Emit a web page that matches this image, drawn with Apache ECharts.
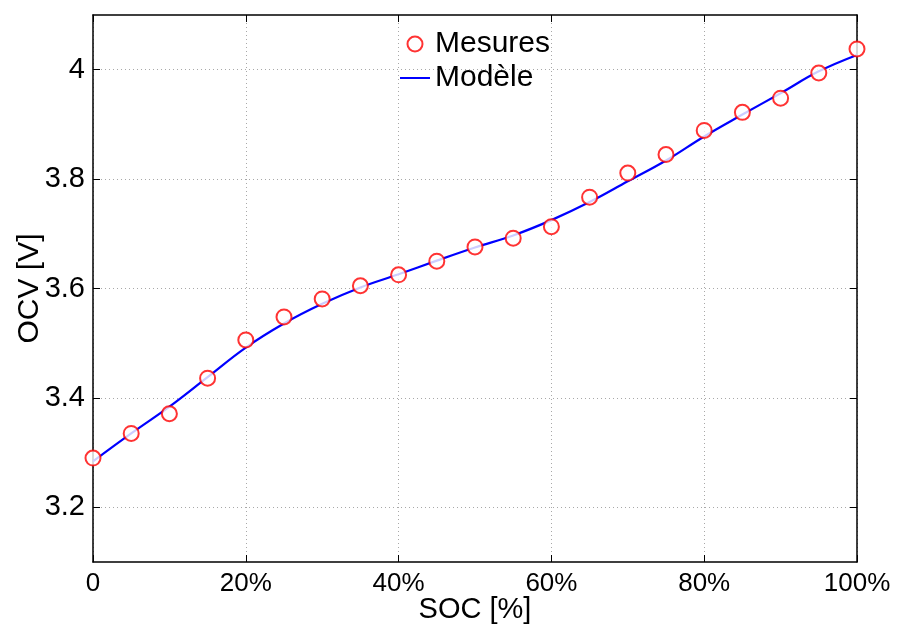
<!DOCTYPE html>
<html>
<head>
<meta charset="utf-8">
<script src="https://cdn.jsdelivr.net/npm/echarts@6/dist/echarts.min.js"></script>
<style>
html,body{margin:0;padding:0;background:#fff;}
#chart{width:897px;height:628px;}
</style>
</head>
<body>
<div id="chart"></div>
<script>
// SOC [%] categories
var socValues = [0,5,10,15,20,25,30,35,40,45,50,55,60,65,70,75,80,85,90,95,100];
// Measured OCV [V]
var mesures = [3.290,3.335,3.371,3.436,3.506,3.548,3.581,3.605,3.625,3.650,3.676,3.692,3.713,3.767,3.811,3.845,3.889,3.922,3.948,3.994,4.038];
// Model OCV [V]
var modele = [3.284,3.335,3.384,3.438,3.492,3.536,3.572,3.602,3.626,3.651,3.675,3.697,3.725,3.758,3.796,3.834,3.878,3.918,3.957,3.997,4.027];
// Tick labels
var xTickValues = [0,20,40,60,80,100];
var xTickLabels = ['0','20%','40%','60%','80%','100%'];
var yTickValues = [3.2,3.4,3.6,3.8,4.0];
var yTickLabels = ['3.2','3.4','3.6','3.8','4'];

function pairs(xs, ys){ return xs.map(function(x,i){ return [x, ys[i]]; }); }
function lookup(vals, labels, v){
  for (var i=0;i<vals.length;i++){ if (Math.abs(vals[i]-v)<1e-6) return labels[i]; }
  return '';
}

var chart = echarts.init(document.getElementById('chart'), null, {renderer:'canvas'});
var axisFont = 'Liberation Sans, Arial, sans-serif';
var gridLine = {show:true, lineStyle:{color:'#a8a8a8', type:[1,3], width:1}};
var option = {
  backgroundColor:'#ffffff',
  animation:false,
  grid:{left:93, right:40, top:15, bottom:66, containLabel:false, outerBoundsMode:'none'},
  legend:{
    orient:'vertical', left:395, top:24, itemWidth:30, itemHeight:15, itemGap:4,
    textStyle:{fontFamily:axisFont, fontSize:30, color:'#000'},
    data:[
      {name:'Mesures', icon:'emptyCircle'},
      {name:'Modèle', icon:'path://M0,0h30v2h-30z', itemStyle:{color:'#0000ff'}}
    ]
  },
  xAxis:[{
    type:'value', min:0, max:100, interval:20, position:'bottom',
    name:'SOC [%]', nameLocation:'middle', nameGap:33, nameMoveOverlap:false,
    nameTextStyle:{fontFamily:axisFont, fontSize:29, color:'#000'},
    axisLine:{show:true, onZero:false, lineStyle:{color:'#000', width:1.5}},
    axisTick:{show:true, inside:true, length:7, lineStyle:{color:'#000'}},
    axisLabel:{fontFamily:axisFont, fontSize:26, color:'#000', margin:9,
      formatter:function(v){ return lookup(xTickValues, xTickLabels, v); }},
    splitLine:gridLine
  },{
    type:'value', min:0, max:100, interval:20, position:'top',
    axisLine:{show:true, onZero:false, lineStyle:{color:'#000', width:1.5}},
    axisTick:{show:true, inside:true, length:7, lineStyle:{color:'#000'}},
    axisLabel:{show:false}, splitLine:{show:false}
  }],
  yAxis:[{
    type:'value', min:3.1, max:4.1, position:'left',
    name:'OCV [V]', nameLocation:'middle', nameGap:48, nameRotate:90, nameMoveOverlap:false,
    nameTextStyle:{fontFamily:axisFont, fontSize:30, color:'#000'},
    axisLine:{show:true, onZero:false, lineStyle:{color:'#000', width:1.5}},
    axisTick:{show:true, inside:true, length:7, lineStyle:{color:'#000'}, customValues:yTickValues},
    axisLabel:{fontFamily:axisFont, fontSize:29, color:'#000', margin:8, customValues:yTickValues,
      formatter:function(v){ return lookup(yTickValues, yTickLabels, v); }},
    splitLine:gridLine
  },{
    type:'value', min:3.1, max:4.1, position:'right',
    axisLine:{show:true, onZero:false, lineStyle:{color:'#000', width:1.5}},
    axisTick:{show:true, inside:true, length:7, lineStyle:{color:'#000'}, customValues:yTickValues},
    axisLabel:{show:false}, splitLine:{show:false}
  }],
  series:[
    {
      name:'Modèle', type:'line', xAxisIndex:0, yAxisIndex:0,
      data:pairs(socValues, modele), smooth:0.4, symbol:'none',
      lineStyle:{color:'#0000ff', width:2.2}, itemStyle:{color:'#0000ff'}, z:2
    },
    {
      name:'Mesures', type:'scatter', xAxisIndex:0, yAxisIndex:0,
      data:pairs(socValues, mesures), symbol:'emptyCircle', symbolSize:15,
      itemStyle:{color:'#ff0000', borderColor:'#ff0000', borderWidth:2}, z:3
    }
  ]
};
chart.setOption(option);
</script>
</body>
</html>
